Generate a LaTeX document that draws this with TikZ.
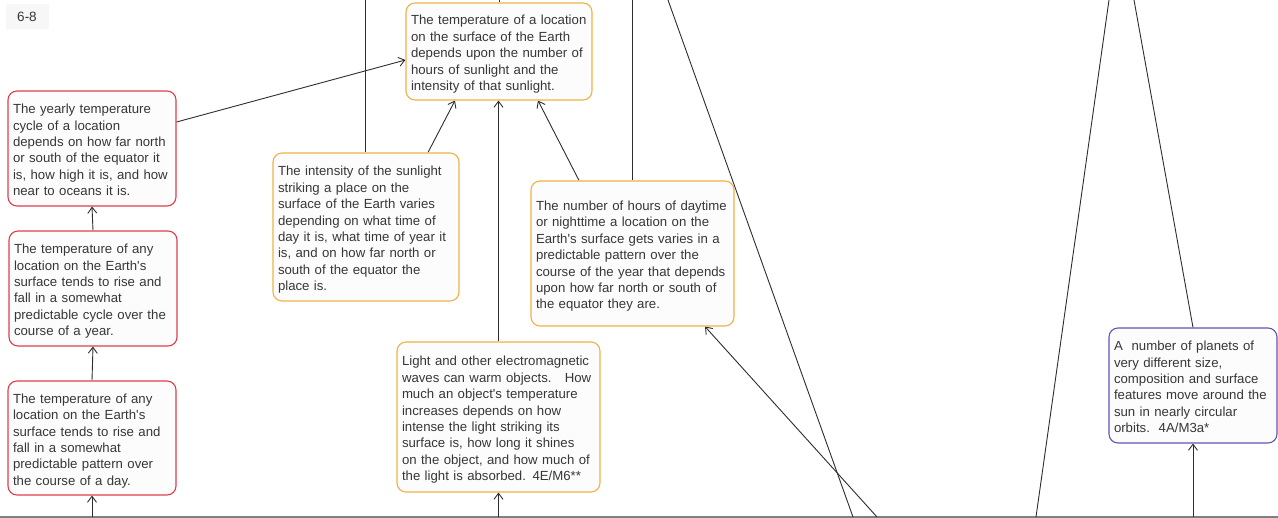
\documentclass[tikz,border=0pt]{standalone}
\usepackage{fontspec}
\setmainfont{Liberation Sans}
\usetikzlibrary{arrows.meta,backgrounds}
\definecolor{cred}{RGB}{222,62,78}
\definecolor{corange}{RGB}{240,178,70}
\definecolor{cpurple}{RGB}{104,82,178}
\definecolor{boxfill}{RGB}{252,252,252}
\definecolor{txt}{RGB}{55,55,55}
\definecolor{linec}{RGB}{45,45,45}
\definecolor{basec}{RGB}{128,128,128}
\definecolor{labelbg}{RGB}{247,247,247}
\newcommand{\tl}[1]{\begin{tabular}{@{}l@{}}\rule{0pt}{17.5pt}#1\end{tabular}}
\begin{document}
\begin{tikzpicture}[x=1pt,y=-1pt,
  box/.style={draw, rounded corners=9pt, fill=boxfill, line width=1.1pt,
    inner xsep=5pt, inner ysep=0pt, text=txt,
    font=\fontsize{13.2}{16.4}\selectfont, align=left},
  redbox/.style={box, draw=cred},
  orangebox/.style={box, draw=corange},
  purplebox/.style={box, draw=cpurple},
  conn/.style={draw=linec, line width=0.9pt},
  arr/.style={conn, -{Straight Barb[length=6pt,width=9pt]}},
  baseline/.style={draw=basec, line width=2pt}
]
\useasboundingbox (0,0) rectangle (1278,518);

% label
\node[fill=labelbg, text=txt, font=\fontsize{13.5}{16.4}\selectfont,
  minimum width=43pt, minimum height=25pt, inner sep=0pt] (lab) at (27,16.5) {6-8};

% nodes
\node[orangebox, text width=176pt, minimum height=97pt] (T) at (499,51.5)
  {\tl{The temperature of a location\\on the surface of the Earth\\depends upon the number of\\hours of sunlight and the\\intensity of that sunlight.}};

\node[redbox, text width=158pt, minimum height=115pt] (Y) at (92,148.5)
  {\tl{The yearly temperature\\cycle of a location\\depends on how far north\\or south of the equator it\\is, how high it is, and how\\near to oceans it is.}};

\node[redbox, text width=158pt, minimum height=115pt] (C) at (93,288.5)
  {\tl{The temperature of any\\location on the Earth\textquotesingle s\\surface tends to rise and\\fall in a somewhat\\predictable cycle over the\\course of a year.}};

\node[redbox, text width=158pt, minimum height=114pt] (D) at (92,438)
  {\tl{The temperature of any\\location on the Earth\textquotesingle s\\surface tends to rise and\\fall in a somewhat\\predictable pattern over\\the course of a day.}};

\node[orangebox, text width=176pt, minimum height=148pt] (I) at (366,227)
  {\tl{The intensity of the sunlight\\striking a place on the\\surface of the Earth varies\\depending on what time of\\day it is, what time of year it\\is, and on how far north or\\south of the equator the\\place is.}};

\node[orangebox, text width=193pt, minimum height=145pt] (H) at (632.5,253.5)
  {\tl{The number of hours of daytime\\or nighttime a location on the\\Earth\textquotesingle s surface gets varies in a\\predictable pattern over the\\course of the year that depends\\upon how far north or south of\\the equator they are.}};

\node[orangebox, text width=193pt, minimum height=150pt] (L) at (498.5,417)
  {\tl{Light and other electromagnetic\\waves can warm objects.~~~How\\much an object\textquotesingle s temperature\\increases depends on how\\intense the light striking its\\surface is, how long it shines\\on the object, and how much of\\the light is absorbed. 4E/M6**}};

\node[purplebox, text width=158pt, minimum height=115pt] (P) at (1193,385.5)
  {\tl{A~~number of planets of\\very different size,\\composition and surface\\features move around the\\sun in nearly circular\\orbits.~~4A/M3a*}};

% free end coordinates
\coordinate (top) at (0,0);
\coordinate (bl) at (0,517);
\coordinate (br) at (1278,517);
\coordinate (d1t) at (668,0);
\coordinate (d1b) at (853,517);
\coordinate (hb) at (877,517);
\coordinate (d2t) at (1109,0);
\coordinate (d2b) at (1036,517);
\coordinate (d3t) at (1134,0);

\begin{scope}[on background layer]
\draw[baseline] (bl) -- (br);
% arrows
\draw[arr] ([yshift=26.5pt]Y.east) -- ([yshift=-8.5pt]T.west);
\draw[arr] ([xshift=62pt]I.north) -- ([xshift=-44pt]T.south);
\draw[arr] (L.north) -- (L.north |- T.south);
\draw[arr] ([xshift=-53.5pt]H.north) -- ([xshift=39pt]T.south);
\draw[arr] (D.north) -- (C.south);
\draw[arr] (C.north) -- (Y.south);
\draw[arr] (D.south |- bl) -- (D.south);
\draw[arr] (L.south |- bl) -- (L.south);
\draw[arr] (P.south |- bl) -- (P.south);
\draw[arr] (hb) -- ([xshift=72.5pt]H.south);
% plain lines
\draw[conn] ([xshift=-1pt]I.north) -- ([xshift=-1pt]I.north |- top);
\draw[conn] (T.north) -- (T.north |- top);
\draw[conn] (H.north) -- (H.north |- top);
\draw[conn] (d1t) -- (d1b);
\draw[conn] (d2t) -- (d2b);
\draw[conn] (d3t) -- (P.north);
\end{scope}
\end{tikzpicture}
\end{document}
